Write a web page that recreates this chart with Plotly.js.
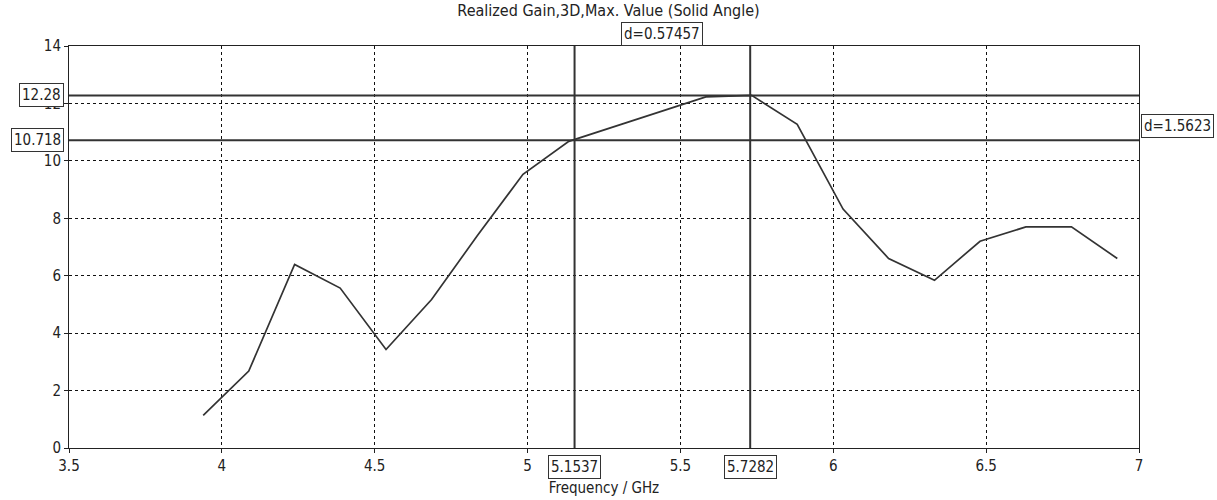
<!DOCTYPE html>
<html>
<head>
<meta charset="utf-8">
<script src="https://cdn.plot.ly/plotly-3.0.1.min.js"></script>
<style>html,body{margin:0;padding:0;background:#fff;}#chart{width:1217px;height:500px;}</style>
</head>
<body>
<div id="chart"></div>
<script>
const frequency = [3.939, 4.088, 4.238, 4.387, 4.537, 4.686, 4.836, 4.985, 5.135, 5.284, 5.434,
                   5.583, 5.733, 5.882, 6.032, 6.181, 6.331, 6.480, 6.630, 6.779, 6.929];
const gain = [1.14, 2.68, 6.39, 5.57, 3.43, 5.17, 7.40, 9.53, 10.68, 11.20, 11.72,
              12.23, 12.28, 11.27, 8.32, 6.60, 5.84, 7.20, 7.70, 7.70, 6.60];
const markerX = [5.1537, 5.7282];
const markerY = [10.718, 12.28];
const markerXLabels = ["5.1537", "5.7282"];
const markerYLabels = ["10.718", "12.28"];
const deltaXLabel = "d=0.57457";
const deltaYLabel = "d=1.5623";
const titleText = "Realized Gain,3D,Max. Value (Solid Angle)";
const xTitle = "Frequency / GHz";

const FONT = "DejaVu Sans Condensed, Liberation Sans, Arial, sans-serif";
const lineCol = "#333333";

const trace = {
  x: frequency, y: gain, type: "scatter", mode: "lines",
  line: {color: lineCol, width: 1.7}, hoverinfo: "skip", showlegend: false
};

const shapes = [];
markerX.forEach(v => shapes.push({type: "line", xref: "x", yref: "paper", x0: v, x1: v, y0: 0, y1: 1,
  line: {color: lineCol, width: 2}}));
markerY.forEach(v => shapes.push({type: "line", xref: "paper", yref: "y", x0: 0, x1: 1, y0: v, y1: v,
  line: {color: lineCol, width: 2}}));

const boxStyle = {showarrow: false, bgcolor: "#ffffff", bordercolor: "#333333", borderwidth: 1, borderpad: 2,
  font: {family: FONT, size: 15, color: "#222"}};

const annotations = [];
markerX.forEach((v, i) => annotations.push(Object.assign({}, boxStyle, {
  xref: "x", yref: "paper", x: v, y: 0, yanchor: "top", xanchor: "center", yshift: -7, text: markerXLabels[i]})));
markerY.forEach((v, i) => annotations.push(Object.assign({}, boxStyle, {
  xref: "paper", yref: "y", x: 0, y: v, xanchor: "right", yanchor: "middle", xshift: -5, text: markerYLabels[i]})));
annotations.push(Object.assign({}, boxStyle, {
  xref: "x", yref: "paper", x: (markerX[0] + markerX[1]) / 2, y: 1, yanchor: "bottom", xanchor: "center",
  yshift: 0, text: deltaXLabel}));
annotations.push(Object.assign({}, boxStyle, {
  xref: "paper", yref: "y", x: 1, y: (markerY[0] + markerY[1]) / 2 - 0.3, xanchor: "left", yanchor: "middle",
  xshift: 2, text: deltaYLabel}));

const axisCommon = {
  showline: true, linecolor: "#222", linewidth: 1, mirror: true,
  showgrid: true, gridcolor: "#111", griddash: "3px,3px", gridwidth: 1,
  zeroline: false, ticks: "outside", ticklen: 4, tickcolor: "#222",
  tickfont: {family: FONT, size: 15, color: "#222"}
};

const layout = {
  width: 1217, height: 500,
  margin: {l: 69, r: 78, t: 46, b: 52},
  paper_bgcolor: "#fff", plot_bgcolor: "#fff",
  title: {text: titleText, font: {family: FONT, size: 16, color: "#222"}, x: 0.5, xanchor: "center",
          y: 1, yref: "container", yanchor: "top", pad: {t: 5}},
  xaxis: Object.assign({}, axisCommon, {range: [3.5, 7], dtick: 0.5, tick0: 3.5,
    title: {text: xTitle, font: {family: FONT, size: 15, color: "#222"}, standoff: 8}}),
  yaxis: Object.assign({}, axisCommon, {range: [0, 14], dtick: 2, tick0: 0}),
  shapes: shapes, annotations: annotations, showlegend: false
};

Plotly.newPlot("chart", [trace], layout, {displayModeBar: false, staticPlot: true});
</script>
</body>
</html>
